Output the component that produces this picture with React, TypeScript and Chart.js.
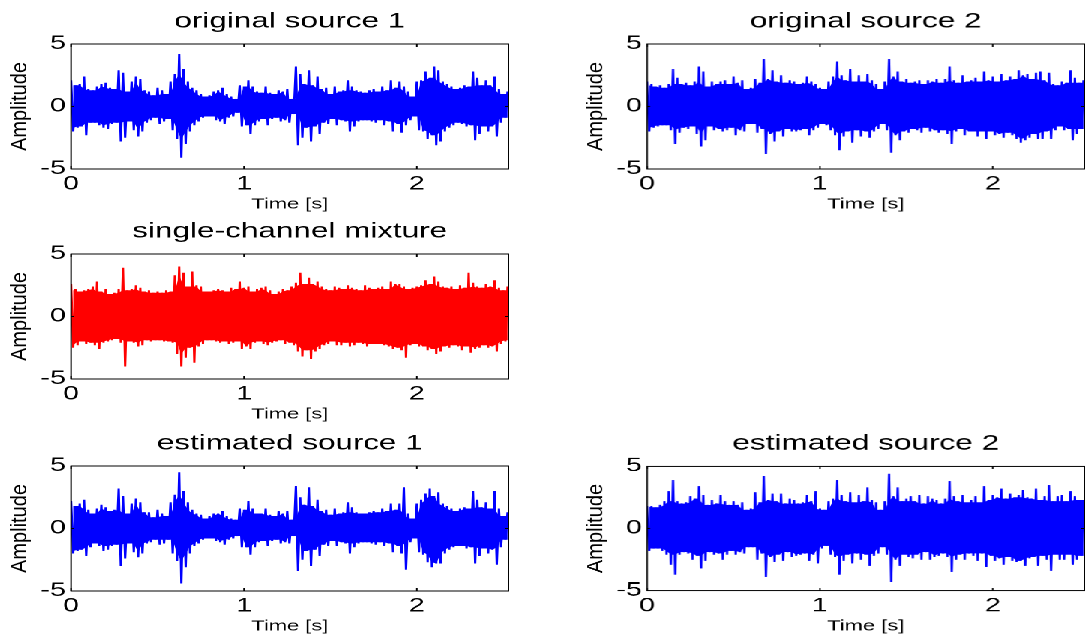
import React, { useEffect, useRef } from "react";
import { Chart, registerables } from "chart.js";

Chart.register(...registerables);

// ---------- data ----------
const X_TICKS = [0, 1, 2];
const Y_TICKS = [-5, 0, 5];
const X_MAX = 2.53;
const Y_MIN = -5;
const Y_MAX = 5;
const STEP = 0.025; // sample grid of the envelope readings (s)

const X_LABEL = "Time [s]";
const Y_LABEL = "Amplitude";
const TITLES = [
  "original source 1",
  "original source 2",
  "single-channel mixture",
  "estimated source 1",
  "estimated source 2",
];

// envelope (upper / lower) of each signal, read every 0.025 s
const S1_UPPER = [
  2.1, 1.7, 1.8, 2.4, 1.4, 1.3, 1.6, 1.8, 1.9, 1.5,
  1.4, 2.9, 2.7, 1.2, 2.0, 2.4, 2.2, 1.3, 1.2, 0.9,
  1.5, 1.3, 1.0, 2.0, 2.6, 4.2, 3.0, 2.0, 1.5, 1.3,
  1.0, 0.8, 0.9, 1.2, 1.3, 1.5, 1.0, 0.8, 0.6, 1.7,
  1.6, 2.1, 1.6, 1.2, 1.1, 1.6, 1.1, 1.0, 1.3, 1.2,
  1.4, 0.6, 3.2, 2.6, 1.8, 2.9, 1.7, 2.4, 1.4, 1.5,
  1.0, 1.6, 1.2, 1.3, 2.1, 1.6, 1.3, 1.2, 1.1, 1.3,
  1.4, 1.2, 1.6, 1.3, 2.1, 1.5, 2.0, 1.6, 1.2, 0.8,
  2.0, 2.1, 2.8, 2.3, 3.2, 2.9, 2.0, 1.8, 1.6, 1.4,
  1.5, 1.7, 1.6, 2.8, 2.3, 1.7, 2.1, 1.7, 2.4, 1.4,
  1.0, 1.2,
];
const S1_LOWER = [
  -2.0, -1.7, -1.6, -2.3, -1.3, -1.3, -1.5, -1.7, -1.8, -1.4,
  -1.3, -2.8, -2.5, -1.2, -1.9, -2.4, -2.0, -1.3, -1.1, -0.9,
  -1.4, -1.2, -1.0, -1.9, -2.6, -4.1, -3.0, -2.0, -1.5, -1.2,
  -0.9, -0.8, -0.8, -1.1, -1.2, -1.4, -0.9, -0.8, -0.5, -1.6,
  -1.5, -2.2, -1.5, -1.2, -1.0, -1.5, -1.0, -0.9, -1.2, -1.1,
  -1.3, -0.6, -3.1, -2.5, -1.7, -2.8, -1.6, -2.2, -1.3, -1.4,
  -1.0, -1.5, -1.1, -1.2, -2.0, -1.6, -1.2, -1.1, -1.1, -1.2,
  -1.3, -1.1, -1.5, -1.2, -2.0, -1.4, -2.1, -1.5, -1.1, -0.8,
  -1.9, -2.0, -2.6, -2.3, -3.1, -2.8, -2.0, -1.7, -1.5, -1.3,
  -1.4, -1.6, -1.5, -2.7, -2.2, -1.6, -2.0, -1.6, -2.4, -1.3,
  -0.9, -1.1,
];

const S2_UPPER = [
  2.0, 1.8, 1.6, 1.7, 1.5, 1.8, 3.0, 2.3, 1.8, 1.9,
  1.7, 2.0, 3.2, 2.8, 1.6, 2.0, 1.8, 2.0, 2.1, 1.8,
  2.4, 1.9, 2.1, 1.4, 1.5, 2.2, 1.9, 3.8, 2.2, 2.9,
  2.0, 2.5, 1.9, 2.1, 2.0, 1.8, 1.9, 2.4, 2.0, 1.8,
  1.5, 1.4, 2.0, 2.4, 3.6, 2.5, 2.1, 3.0, 2.0, 2.5,
  2.0, 2.6, 2.1, 1.8, 1.4, 2.0, 3.8, 2.4, 2.8, 2.0,
  2.2, 1.9, 2.0, 2.1, 1.8, 2.1, 2.0, 2.2, 1.9, 2.2,
  3.2, 2.1, 1.9, 2.5, 2.0, 2.1, 2.3, 2.0, 2.8, 2.1,
  2.4, 2.0, 2.6, 2.1, 2.4, 2.2, 2.9, 2.5, 2.6, 2.2,
  2.7, 2.8, 2.1, 2.7, 1.8, 1.7, 2.0, 1.9, 2.9, 2.3,
  1.9, 2.1,
];
const S2_LOWER = [
  -2.0, -1.7, -1.6, -1.5, -1.5, -1.9, -3.0, -2.1, -1.7, -1.8,
  -1.6, -2.2, -3.2, -2.7, -1.6, -1.9, -1.8, -2.0, -1.9, -1.7,
  -2.3, -1.9, -2.0, -1.4, -1.4, -2.1, -1.8, -3.8, -2.2, -2.8,
  -2.0, -2.4, -1.8, -2.0, -2.0, -1.9, -1.8, -2.3, -1.9, -1.7,
  -1.4, -1.5, -1.9, -2.3, -3.5, -2.4, -2.0, -2.9, -1.9, -2.4,
  -2.0, -2.5, -2.0, -1.8, -1.4, -1.9, -3.7, -2.3, -2.7, -2.0,
  -2.1, -1.8, -1.9, -2.1, -1.7, -2.0, -1.9, -2.1, -1.9, -2.2,
  -3.0, -2.0, -1.8, -2.3, -2.0, -2.0, -2.4, -2.0, -2.6, -2.0,
  -2.3, -2.2, -2.5, -2.1, -2.3, -2.6, -2.9, -2.7, -2.5, -2.2,
  -2.6, -2.6, -2.0, -2.6, -1.9, -1.6, -1.9, -1.8, -2.7, -2.2,
  -1.8, -2.8,
];

const MIX_UPPER = [
  2.6, 2.2, 2.0, 2.1, 2.2, 2.4, 2.8, 2.0, 2.2, 1.8,
  1.9, 2.2, 3.9, 2.1, 2.2, 2.5, 2.3, 2.0, 2.1, 1.9,
  2.0, 1.9, 2.1, 2.0, 3.3, 4.0, 3.5, 2.4, 3.6, 2.5,
  2.4, 2.0, 2.0, 2.1, 2.2, 2.1, 2.0, 2.3, 2.2, 2.8,
  2.3, 2.4, 2.0, 2.2, 2.3, 2.4, 2.1, 1.8, 2.0, 2.2,
  2.1, 2.4, 2.7, 3.5, 2.6, 3.1, 2.6, 2.8, 2.4, 2.2,
  2.1, 2.4, 2.3, 2.2, 2.5, 2.3, 2.2, 2.1, 2.5, 2.3,
  2.2, 2.3, 2.4, 2.2, 2.8, 2.6, 2.6, 2.4, 2.2, 2.3,
  2.4, 2.5, 2.9, 2.6, 3.2, 2.8, 2.4, 2.3, 2.4, 2.2,
  2.5, 2.3, 3.5, 2.7, 2.4, 2.3, 2.6, 2.4, 2.9, 2.3,
  2.1, 2.4,
];
const MIX_LOWER = [
  -2.5, -2.3, -2.0, -2.2, -2.1, -2.3, -2.6, -2.1, -2.0, -1.9,
  -1.8, -2.1, -4.0, -2.0, -2.1, -2.4, -2.3, -1.9, -2.0, -1.9,
  -1.9, -2.0, -2.0, -2.1, -3.0, -4.0, -3.3, -2.5, -3.7, -2.4,
  -2.2, -1.9, -1.9, -2.0, -2.1, -2.0, -2.2, -2.1, -2.0, -2.6,
  -2.4, -2.6, -2.1, -2.0, -2.2, -2.3, -2.1, -2.0, -1.9, -2.2,
  -2.1, -2.3, -2.8, -3.2, -2.7, -3.4, -2.8, -2.6, -2.3, -2.2,
  -2.0, -2.3, -2.3, -2.1, -2.4, -2.3, -2.1, -2.2, -2.4, -2.2,
  -2.2, -2.2, -2.3, -2.4, -2.6, -2.5, -2.7, -3.3, -2.3, -2.2,
  -2.4, -2.4, -2.7, -2.6, -3.0, -2.8, -2.4, -2.5, -2.3, -2.4,
  -2.7, -2.4, -2.9, -2.6, -2.5, -2.3, -2.5, -2.4, -2.8, -2.2,
  -2.0, -1.9,
];

const E1_UPPER = [
  2.2, 1.8, 2.0, 2.3, 1.5, 1.2, 1.6, 1.9, 1.7, 1.4,
  1.5, 3.2, 2.6, 1.2, 2.0, 2.4, 2.1, 1.3, 1.3, 0.9,
  1.5, 1.2, 1.0, 2.1, 2.7, 4.5, 3.0, 2.1, 1.5, 1.2,
  1.1, 0.8, 1.0, 1.2, 1.2, 1.4, 1.0, 0.8, 0.7, 1.6,
  1.5, 2.2, 1.6, 1.2, 1.2, 1.6, 1.1, 1.0, 1.4, 1.2,
  1.4, 0.7, 3.4, 2.5, 1.9, 3.3, 1.8, 2.3, 1.4, 1.5,
  1.1, 1.6, 1.2, 1.3, 2.1, 1.7, 1.3, 1.2, 1.2, 1.3,
  1.4, 1.3, 1.6, 1.4, 2.0, 1.5, 2.0, 3.3, 1.2, 0.8,
  2.0, 2.3, 2.8, 3.2, 2.6, 2.9, 2.0, 1.8, 1.6, 1.4,
  1.6, 1.7, 1.6, 3.0, 2.3, 1.7, 2.1, 1.6, 3.0, 1.6,
  1.0, 1.3,
];
const E1_LOWER = [
  -2.0, -1.8, -1.7, -2.2, -1.5, -1.2, -1.4, -1.8, -1.7, -1.4,
  -1.3, -3.0, -2.4, -1.2, -1.9, -2.3, -2.0, -1.2, -1.1, -0.9,
  -1.3, -1.2, -0.9, -2.0, -2.6, -4.4, -3.1, -2.0, -1.4, -1.2,
  -0.9, -0.8, -0.8, -1.0, -1.1, -1.3, -0.9, -0.8, -0.6, -1.5,
  -1.5, -2.1, -1.5, -1.1, -1.0, -1.4, -1.0, -0.9, -1.2, -1.1,
  -1.2, -0.6, -3.4, -2.5, -1.8, -3.0, -1.7, -2.2, -1.3, -1.4,
  -1.0, -1.4, -1.1, -1.2, -2.0, -1.5, -1.2, -1.1, -1.1, -1.2,
  -1.3, -1.1, -1.4, -1.2, -1.9, -1.4, -2.0, -3.3, -1.1, -0.8,
  -1.9, -2.1, -2.7, -3.1, -2.8, -2.8, -2.0, -1.7, -1.5, -1.4,
  -1.4, -1.6, -1.5, -2.8, -2.2, -1.6, -2.0, -1.7, -2.9, -1.5,
  -0.9, -1.1,
];

const E2_UPPER = [
  1.8, 1.8, 1.7, 1.9, 2.2, 3.0, 3.9, 2.2, 2.0, 2.1,
  2.6, 2.4, 3.4, 2.7, 1.9, 2.3, 2.0, 2.7, 2.2, 1.9,
  2.2, 1.9, 2.1, 1.5, 1.6, 2.9, 2.1, 4.2, 2.3, 2.8,
  2.2, 2.8, 2.0, 2.4, 2.3, 2.0, 2.1, 2.7, 2.2, 3.0,
  1.6, 1.5, 2.2, 2.4, 3.9, 2.7, 2.2, 2.9, 2.1, 2.7,
  2.2, 3.3, 2.3, 2.1, 1.5, 2.2, 4.4, 2.6, 3.3, 2.2,
  2.4, 2.6, 2.2, 2.7, 2.0, 2.6, 2.4, 2.3, 2.0, 2.4,
  3.8, 2.6, 2.2, 2.7, 2.1, 2.3, 2.6, 2.1, 3.4, 2.3,
  2.7, 2.5, 3.2, 2.4, 2.8, 2.5, 2.7, 3.1, 2.5, 2.4,
  3.2, 2.3, 2.6, 3.5, 2.2, 2.6, 2.7, 2.2, 3.0, 2.6,
  2.3, 2.3,
];
const E2_LOWER = [
  -1.8, -1.6, -1.6, -1.8, -2.1, -2.9, -3.7, -2.1, -1.9, -2.0,
  -2.5, -2.2, -3.2, -2.6, -1.9, -2.1, -2.0, -2.5, -2.1, -1.8,
  -2.1, -1.9, -2.0, -1.5, -1.5, -2.5, -2.0, -3.9, -2.3, -2.7,
  -2.1, -2.6, -1.9, -2.3, -2.2, -2.1, -2.0, -2.6, -2.1, -2.8,
  -1.6, -1.4, -2.1, -2.3, -3.7, -2.6, -2.1, -2.8, -2.0, -2.5,
  -2.1, -3.0, -2.2, -2.0, -1.5, -2.1, -4.3, -2.5, -3.0, -2.1,
  -2.3, -2.4, -2.1, -2.5, -1.9, -2.5, -2.3, -2.2, -2.0, -2.3,
  -3.5, -2.5, -2.1, -2.5, -2.0, -2.2, -2.6, -2.0, -3.1, -2.2,
  -2.6, -2.4, -2.9, -2.3, -2.6, -2.7, -2.6, -3.0, -2.4, -2.3,
  -3.0, -2.2, -2.5, -3.4, -2.1, -2.5, -2.5, -2.1, -2.9, -2.5,
  -2.2, -2.5,
];

// ---------- layout / style ----------
const SX = 1.5; // the reference is stretched horizontally
const FONT = "'Liberation Sans', Arial, Helvetica, sans-serif";
const BLUE = "#0000ff";
const RED = "#ff0000";

const LEFT_PAD = 47.33; // canvas space left of the plot area (pre-stretch px)
const TOP_PAD = 44;
const RIGHT_PAD = 4;
const BOTTOM_PAD = 50;
const Y_AXIS_W = 40;
const X_AXIS_H = 30;

// plot rectangles in final page pixels
const PANELS = [
  { title: TITLES[0], upper: S1_UPPER, lower: S1_LOWER, color: BLUE, l: 71, r: 509, t: 44, b: 169.3 },
  { title: TITLES[1], upper: S2_UPPER, lower: S2_LOWER, color: BLUE, l: 647, r: 1084, t: 44, b: 169.3 },
  { title: TITLES[2], upper: MIX_UPPER, lower: MIX_LOWER, color: RED, l: 71, r: 509, t: 254.3, b: 379.3 },
  { title: TITLES[3], upper: E1_UPPER, lower: E1_LOWER, color: BLUE, l: 71, r: 509, t: 465.5, b: 590.7 },
  { title: TITLES[4], upper: E2_UPPER, lower: E2_LOWER, color: BLUE, l: 647, r: 1084, t: 466, b: 590.7 },
];

// the dense oscillation: alternate between the upper and lower envelope
function zigzag(upper: number[], lower: number[]) {
  const pts: { x: number; y: number }[] = [];
  for (let i = 0; i < upper.length; i++) {
    const t = i * STEP;
    pts.push({ x: t, y: upper[i] });
    pts.push({ x: t + STEP / 2, y: lower[i] });
  }
  return pts;
}

// solid core of the band: the smallest excursion among neighbouring readings
function coreUpper(u: number[]) {
  return u.map((v, i) => {
    const a = u[Math.max(0, i - 1)];
    const b = u[Math.min(u.length - 1, i + 1)];
    return { x: i * STEP, y: Math.min(v, a, b) };
  });
}
function coreLower(l: number[]) {
  return l.map((v, i) => {
    const a = l[Math.max(0, i - 1)];
    const b = l[Math.min(l.length - 1, i + 1)];
    return { x: i * STEP + STEP / 2, y: Math.max(v, a, b) };
  });
}

const decor = {
  id: "decor",
  afterDatasetsDraw(chart: any) {
    const { ctx, chartArea: a, scales } = chart;
    ctx.save();
    ctx.strokeStyle = "#000";
    ctx.lineWidth = 1;
    ctx.strokeRect(a.left, a.top, a.right - a.left, a.bottom - a.top);
    ctx.beginPath();
    for (const v of X_TICKS) {
      const px = scales.x.getPixelForValue(v);
      ctx.moveTo(px, a.bottom);
      ctx.lineTo(px, a.bottom - 3);
      ctx.moveTo(px, a.top);
      ctx.lineTo(px, a.top + 3);
    }
    for (const v of Y_TICKS) {
      const py = scales.y.getPixelForValue(v);
      ctx.moveTo(a.left, py);
      ctx.lineTo(a.left + 2, py);
      ctx.moveTo(a.right, py);
      ctx.lineTo(a.right - 2, py);
    }
    ctx.stroke();
    ctx.restore();
  },
  afterDraw(chart: any) {
    const { ctx, chartArea: a } = chart;
    const title = chart.options.plugins.decor.title;
    const cx = (a.left + a.right) / 2;
    ctx.save();
    ctx.fillStyle = "#000";
    ctx.textAlign = "center";
    ctx.textBaseline = "alphabetic";
    ctx.font = `21px ${FONT}`;
    ctx.fillText(title, cx, a.top - 16.5);
    ctx.font = `14.6px ${FONT}`;
    ctx.fillText(X_LABEL, cx, a.bottom + 39.5);
    ctx.translate(a.left - 33.7, (a.top + a.bottom) / 2);
    ctx.rotate(-Math.PI / 2);
    ctx.scale(1, 0.73);
    ctx.font = `20px ${FONT}`;
    ctx.textBaseline = "middle";
    ctx.fillText(Y_LABEL, 0, 0);
    ctx.restore();
  },
};

function Panel({ p }: { p: (typeof PANELS)[number] }) {
  const ref = useRef<HTMLCanvasElement>(null);
  const pw = (p.r - p.l) / SX;
  const ph = p.b - p.t;
  const w = pw + LEFT_PAD + RIGHT_PAD;
  const h = ph + TOP_PAD + BOTTOM_PAD;
  const left = p.l / SX - LEFT_PAD;
  const top = p.t - TOP_PAD;

  useEffect(() => {
    if (!ref.current) return;
    const tickFont = { size: 19, family: FONT };
    const chart = new Chart(ref.current, {
      type: "line",
      data: {
        datasets: [
          {
            data: coreUpper(p.upper),
            borderWidth: 0,
            borderColor: "rgba(0,0,0,0)",
            backgroundColor: p.color,
            pointRadius: 0,
            fill: "+1",
            tension: 0,
          },
          {
            data: coreLower(p.lower),
            borderWidth: 0,
            borderColor: "rgba(0,0,0,0)",
            pointRadius: 0,
            fill: false,
            tension: 0,
          },
          {
            data: zigzag(p.upper, p.lower),
            borderColor: p.color,
            borderWidth: 1.5,
            borderJoinStyle: "bevel",
            pointRadius: 0,
            fill: false,
            tension: 0,
          },
        ],
      },
      options: {
        animation: false,
        responsive: false,
        devicePixelRatio: 2,
        events: [],
        layout: {
          padding: {
            left: LEFT_PAD - Y_AXIS_W,
            top: TOP_PAD,
            right: RIGHT_PAD,
            bottom: BOTTOM_PAD - X_AXIS_H,
          },
        },
        plugins: {
          legend: { display: false },
          title: { display: false },
          tooltip: { enabled: false },
          filler: { propagate: false },
          decor: { title: p.title },
        } as any,
        scales: {
          x: {
            type: "linear",
            min: 0,
            max: X_MAX,
            grid: { display: false, drawTicks: false },
            border: { display: false },
            ticks: {
              font: tickFont,
              color: "#000",
              padding: 4,
              maxRotation: 0,
              autoSkip: false,
              callback: (v: any) => String(v),
            },
            afterBuildTicks: (s: any) => {
              s.ticks = X_TICKS.map((v) => ({ value: v }));
            },
            afterFit: (s: any) => {
              s.height = X_AXIS_H;
              s.paddingLeft = 0;
              s.paddingRight = 0;
            },
          },
          y: {
            type: "linear",
            min: Y_MIN,
            max: Y_MAX,
            grid: { display: false, drawTicks: false },
            border: { display: false },
            ticks: {
              font: tickFont,
              color: "#000",
              padding: 3.5,
              autoSkip: false,
              callback: (v: any) => String(v),
            },
            afterBuildTicks: (s: any) => {
              s.ticks = Y_TICKS.map((v) => ({ value: v }));
            },
            afterFit: (s: any) => {
              s.width = Y_AXIS_W;
              s.paddingTop = 0;
              s.paddingBottom = 0;
            },
          },
        },
      } as any,
      plugins: [decor],
    });
    return () => chart.destroy();
  }, []);

  return (
    <canvas
      ref={ref}
      width={w}
      height={h}
      style={{ position: "absolute", left, top, width: w, height: h }}
    />
  );
}

export default function App() {
  return (
    <div
      style={{
        position: "fixed",
        left: 0,
        top: 0,
        width: 1088 / SX,
        height: 636,
        background: "#fff",
        transform: `scaleX(${SX})`,
        transformOrigin: "0 0",
        overflow: "hidden",
      }}
    >
      {PANELS.map((p, i) => (
        <Panel key={i} p={p} />
      ))}
    </div>
  );
}
